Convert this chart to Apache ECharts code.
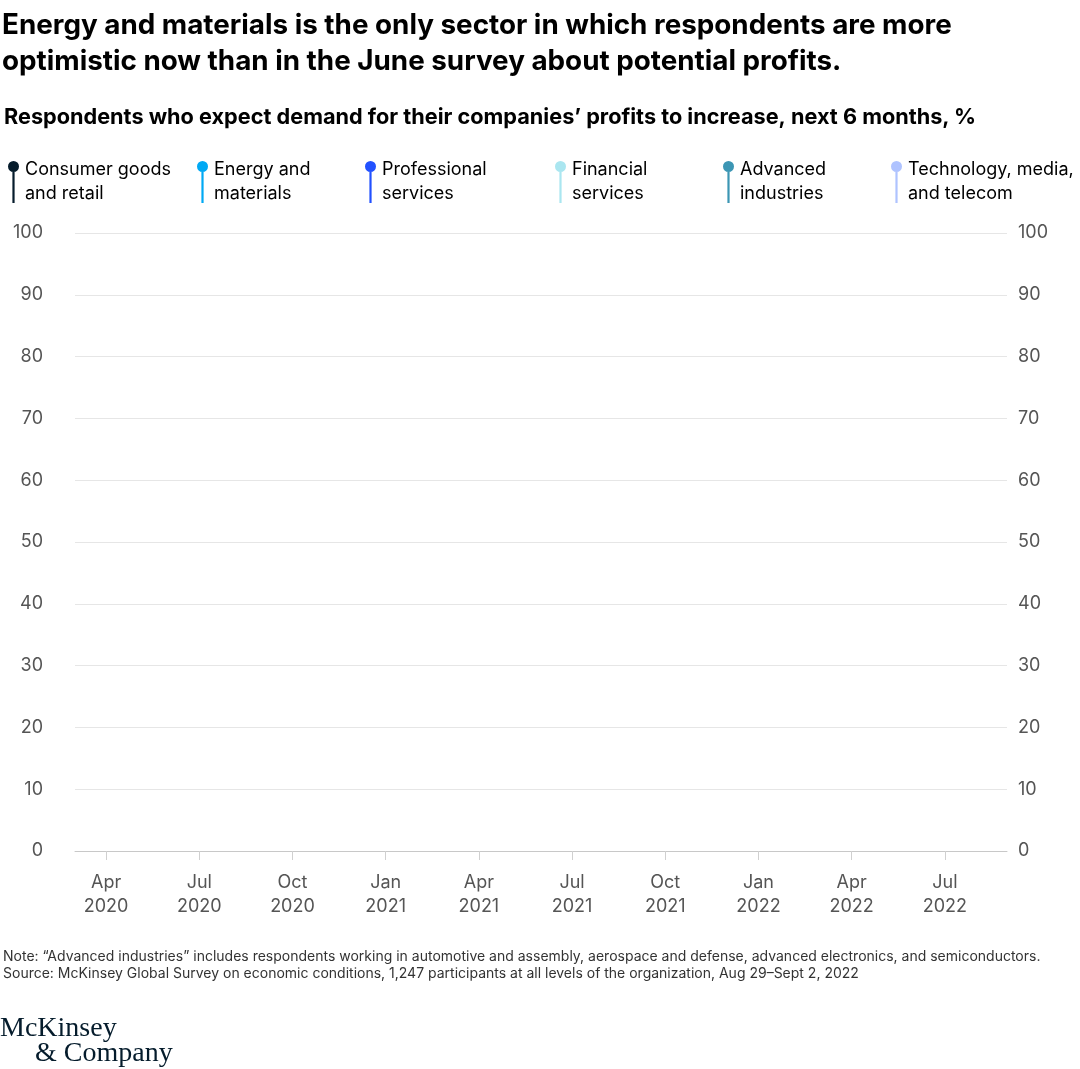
<!DOCTYPE HTML>
<html lang="en">
  <head>
    <meta charset="utf-8" />
    <script src="https://cdn.jsdelivr.net/npm/echarts@6.0.0/dist/echarts.min.js"></script>
    <style>
      html, body {
        height: 100%;
        padding: 0;
        margin: 0;
        background: #fff;
      }
      #chart {
        width: 1080px;
        height: 1069px;
      }
    </style>
  </head>
  <body>
    <div id="chart"></div>
    <script>
      // months on the x axis, Mar 2020 to Sep 2022
      var months = ['Jan', 'Feb', 'Mar', 'Apr', 'May', 'Jun', 'Jul', 'Aug', 'Sep', 'Oct', 'Nov', 'Dec'];
      var categories = [];
      for (var y = 2020; y <= 2022; y++) {
        for (var m = 0; m < 12; m++) {
          if (y === 2020 && m < 2) continue;
          if (y === 2022 && m > 8) continue;
          categories.push(months[m] + ' ' + y);
        }
      }

      var sectorNames = [
        'Consumer goods\nand retail',
        'Energy and\nmaterials',
        'Professional\nservices',
        'Financial\nservices',
        'Advanced\nindustries',
        'Technology, media,\nand telecom'
      ];
      var sectorColors = ['#051c2c', '#00a9f4', '#2251ff', '#aae6f0', '#3c96b4', '#afc3ff'];

      // no lines are drawn in the reference, so the series hold no points
      var consumerGoods = [];
      var energyMaterials = [];
      var professionalServices = [];
      var financialServices = [];
      var advancedIndustries = [];
      var techMediaTelecom = [];
      var sectorData = [consumerGoods, energyMaterials, professionalServices,
                        financialServices, advancedIndustries, techMediaTelecom];

      var legendLeft = [8, 197, 365, 555, 723, 891];
      var lollipop = 'path://M0,5 A5,5 0 1,1 10,5 A5,5 0 1,1 0,5 Z M4,5 L6,5 L6,38 L4,38 Z';

      function quarterTick(idx, value) {
        var mon = value.split(' ')[0];
        return mon === 'Jan' || mon === 'Apr' || mon === 'Jul' || mon === 'Oct';
      }

      var chart = echarts.init(document.getElementById('chart'));

      var option = {
        animation: false,
        textStyle: { fontFamily: 'Inter' },
        title: [{
          text: 'Energy and materials is the only sector in which respondents are more\noptimistic now than in the June survey about potential profits.',
          left: 2, top: 8, padding: 0,
          textStyle: { fontSize: 27.8, fontWeight: 'bold', color: '#000', lineHeight: 36, fontFamily: 'Inter' }
        }, {
          text: '{b|Respondents who expect demand for their companies\u2019 profits to increase, next 6 months,} {r|%}',
          left: 4, top: 106, padding: 0,
          textStyle: {
            rich: {
              b: { fontSize: 21.7, fontWeight: 'bold', color: '#000', fontFamily: 'Inter' },
              r: { fontSize: 21.7, color: '#000', fontFamily: 'Inter' }
            }
          }
        }, {
          text: 'Note: \u201cAdvanced industries\u201d includes respondents working in automotive and assembly, aerospace and defense, advanced electronics, and semiconductors.\nSource: McKinsey Global Survey on economic conditions, 1,247 participants at all levels of the organization, Aug 29\u2013Sept 2, 2022',
          left: 3, top: 949, padding: 0,
          textStyle: { fontSize: 14, fontWeight: 'normal', color: '#333', lineHeight: 16.5, fontFamily: 'Inter' }
        }, {
          text: 'McKinsey',
          left: 0, top: 1015, padding: 0,
          textStyle: { fontSize: 28, fontWeight: 'normal', color: '#051c2c', fontFamily: 'Liberation Serif' }
        }, {
          text: '& Company',
          left: 35, top: 1040, padding: 0,
          textStyle: { fontSize: 28, fontWeight: 'normal', color: '#051c2c', fontFamily: 'Liberation Serif' }
        }],
        legend: sectorNames.map(function (name, i) {
          return {
            data: [name],
            left: legendLeft[i], top: 158, padding: 0,
            icon: lollipop,
            itemWidth: 11, itemHeight: 42,
            itemGap: 0,
            symbolKeepAspect: false,
            selectedMode: false,
            textStyle: { fontSize: 18, color: '#000', lineHeight: 24, fontFamily: 'Inter', padding: [0, 0, 0, 1] }
          };
        }),
        grid: { left: 75, right: 73, top: 233, bottom: 218 },
        xAxis: {
          type: 'category',
          data: categories,
          boundaryGap: false,
          axisLine: { lineStyle: { color: '#c8c8c8' } },
          axisTick: { interval: quarterTick, length: 9, lineStyle: { color: '#d0d0d0' } },
          axisLabel: {
            interval: quarterTick,
            margin: 20,
            fontSize: 18, lineHeight: 24, color: '#555',
            formatter: function (v) { return v.replace(' ', '\n'); }
          },
          splitLine: { show: false }
        },
        yAxis: [{
          type: 'value', min: 0, max: 100, interval: 10,
          axisLine: { show: false }, axisTick: { show: false },
          axisLabel: { fontSize: 18, color: '#555', margin: 32 },
          splitLine: { lineStyle: { color: '#e6e6e6' } }
        }, {
          type: 'value', min: 0, max: 100, interval: 10, position: 'right',
          axisLine: { show: false }, axisTick: { show: false },
          axisLabel: { fontSize: 18, color: '#555', margin: 11 },
          splitLine: { show: false }
        }],
        series: sectorNames.map(function (name, i) {
          return {
            name: name,
            type: 'line',
            data: sectorData[i],
            color: sectorColors[i],
            symbol: 'none',
            lineStyle: { width: 2 }
          };
        })
      };

      chart.setOption(option);
    </script>
  </body>
</html>
